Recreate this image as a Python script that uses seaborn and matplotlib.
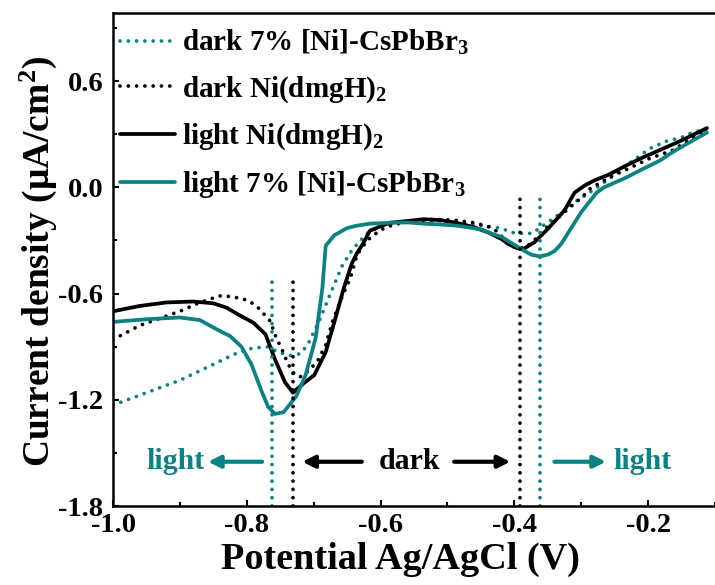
import matplotlib
matplotlib.use("Agg")
import matplotlib.pyplot as plt
import seaborn as sns
import pandas as pd

# ---------------- data ----------------
x_light_ni = [-1.0, -0.96, -0.92, -0.88, -0.85, -0.83, -0.812, -0.79, -0.772, -0.758, -0.743,
              -0.731, -0.716, -0.699, -0.682, -0.669, -0.655, -0.643, -0.635, -0.625, -0.616,
              -0.6, -0.586, -0.56, -0.536, -0.51, -0.487, -0.46, -0.439, -0.42, -0.409, -0.395,
              -0.385, -0.37, -0.35, -0.325, -0.31, -0.295, -0.28, -0.26, -0.232, -0.21, -0.183,
              -0.15, -0.112]
y_light_ni = [-0.70, -0.67, -0.65, -0.645, -0.655, -0.68, -0.72, -0.765, -0.83, -0.97, -1.10,
              -1.16, -1.11, -1.06, -0.93, -0.76, -0.57, -0.43, -0.37, -0.31, -0.245,
              -0.22, -0.20, -0.19, -0.18, -0.185, -0.20, -0.225, -0.255, -0.29, -0.32, -0.345,
              -0.345, -0.31, -0.235, -0.13, -0.03, 0.01, 0.04, 0.07, 0.125, 0.165, 0.21,
              0.265, 0.335]

x_dark_ni = [-1.0, -0.98, -0.96, -0.93, -0.9, -0.87, -0.85, -0.837, -0.812, -0.797, -0.783,
             -0.765, -0.756, -0.748, -0.738, -0.728, -0.719, -0.706, -0.694, -0.682, -0.672,
             -0.66, -0.645, -0.635, -0.62, -0.6, -0.58, -0.55, -0.52, -0.49, -0.46, -0.44,
             -0.425, -0.409, -0.394, -0.38, -0.365, -0.35, -0.34, -0.325, -0.31, -0.3, -0.286,
             -0.256, -0.227, -0.2, -0.163, -0.112]
y_dark_ni = [-0.86, -0.82, -0.78, -0.74, -0.70, -0.65, -0.625, -0.61, -0.625, -0.64, -0.68,
             -0.755, -0.85, -0.91, -1.0, -1.06, -1.07, -1.03, -0.98, -0.89, -0.76,
             -0.64, -0.51, -0.38, -0.30, -0.24, -0.21, -0.19, -0.18, -0.185, -0.20, -0.22,
             -0.25, -0.32, -0.35, -0.33, -0.28, -0.22, -0.19, -0.14, -0.09, -0.06, -0.005,
             0.06, 0.11, 0.16, 0.21, 0.33]

x_light_cs = [-1.0, -0.95, -0.9, -0.87, -0.846, -0.825, -0.808, -0.793, -0.778, -0.768, -0.758,
              -0.745, -0.726, -0.712, -0.697, -0.687, -0.682, -0.669, -0.65, -0.635, -0.616,
              -0.586, -0.56, -0.536, -0.51, -0.487, -0.465, -0.448, -0.435, -0.419, -0.404,
              -0.389, -0.375, -0.362, -0.35, -0.34, -0.33, -0.32, -0.31, -0.3, -0.277, -0.266,
              -0.245, -0.232, -0.21, -0.183, -0.163, -0.14, -0.112]
y_light_cs = [-0.76, -0.745, -0.735, -0.75, -0.80, -0.84, -0.90, -1.0, -1.15, -1.24, -1.28,
              -1.27, -1.18, -1.06, -0.85, -0.57, -0.33, -0.27, -0.23, -0.216, -0.205,
              -0.20, -0.198, -0.205, -0.21, -0.216, -0.228, -0.24, -0.26, -0.28, -0.315,
              -0.35, -0.38, -0.39, -0.38, -0.36, -0.32, -0.26, -0.2, -0.14, -0.03, 0.0,
              0.035, 0.057, 0.10, 0.15, 0.20, 0.25, 0.31]

x_dark_cs = [-1.0, -0.95, -0.9, -0.85, -0.817, -0.793, -0.77, -0.753, -0.735, -0.72, -0.709,
             -0.69, -0.675, -0.657, -0.642, -0.62, -0.6, -0.57, -0.54, -0.51, -0.48, -0.46,
             -0.44, -0.42, -0.404, -0.389, -0.374, -0.36, -0.34, -0.325, -0.313, -0.3, -0.28,
             -0.25, -0.222, -0.197, -0.173, -0.148, -0.134, -0.112]
y_dark_cs = [-1.23, -1.16, -1.09, -1.00, -0.94, -0.91, -0.90, -0.93, -0.95, -0.94, -0.89,
             -0.74, -0.60, -0.44, -0.35, -0.26, -0.22, -0.20, -0.19, -0.19, -0.20, -0.21,
             -0.22, -0.23, -0.255, -0.26, -0.26, -0.225, -0.17, -0.13, -0.09, -0.06, -0.01,
             0.07, 0.153, 0.22, 0.26, 0.285, 0.31, 0.33]

labels = ["dark 7% [Ni]-CsPbBr$_3$", "dark Ni(dmgH)$_2$",
          "light Ni(dmgH)$_2$", "light 7% [Ni]-CsPbBr$_3$"]

# peak markers (vertical dotted lines)
vline_x_teal = [-0.763, -0.361]
vline_top_teal = [-0.49, -0.05]
vline_x_black = [-0.731, -0.392]
vline_top_black = [-0.49, -0.05]

x_ticks = [-1.0, -0.8, -0.6, -0.4, -0.2]
y_ticks = [-1.8, -1.2, -0.6, 0.0, 0.6]

TEAL = "#0a8282"
BLACK = "#000000"

# ---------------- style ----------------
sns.set_theme(style="ticks")
plt.rcParams.update({
    "font.family": ["Liberation Serif", "DejaVu Serif"],
    "font.weight": "bold",
    "axes.labelweight": "bold",
    "mathtext.fontset": "custom",
    "mathtext.rm": "Liberation Serif:bold",
    "mathtext.it": "Liberation Serif:italic:bold",
    "mathtext.bf": "Liberation Serif:bold",
    "mathtext.default": "rm",
    "axes.linewidth": 1.8,
    "axes.edgecolor": "black",
    "axes.labelcolor": "black",
    "text.color": "black",
    "xtick.color": "black",
    "ytick.color": "black",
    "xtick.direction": "in",
    "ytick.direction": "in",
})

fig = plt.figure(figsize=(7.15, 5.85), dpi=100)
ax = fig.add_axes([113 / 715, 1 - 506 / 585, (715 - 113) / 715, (506 - 13) / 585])

dot = (0, (0.01, 2.2))
lw = 2.7

def draw(xs, ys, color, style, label):
    df = pd.DataFrame({"x": xs, "y": ys})
    sns.lineplot(data=df, x="x", y="y", ax=ax, color=color, linewidth=lw,
                 linestyle=style, label=label, sort=False,
                 solid_capstyle="round", dash_capstyle="round", solid_joinstyle="round")

draw(x_dark_cs, y_dark_cs, TEAL, dot, labels[0])
draw(x_dark_ni, y_dark_ni, BLACK, dot, labels[1])
draw(x_light_ni, y_light_ni, BLACK, "-", labels[2])
draw(x_light_cs, y_light_cs, TEAL, "-", labels[3])

ymin, ymax = -1.8, 0.985
ax.vlines(vline_x_teal, ymin, vline_top_teal, colors=TEAL, linewidth=lw,
          linestyles=[dot])
ax.vlines(vline_x_black, ymin, vline_top_black, colors=BLACK, linewidth=lw,
          linestyles=[dot])
for coll in ax.collections:
    coll.set_capstyle("round")

ax.set_xlim(-1.0, -0.112)
ax.set_ylim(ymin, ymax)
ax.set_xticks(x_ticks)
ax.set_yticks(y_ticks)
ax.set_xticks([-0.9, -0.7, -0.5, -0.3, -0.1], minor=True)
ax.set_yticks([-1.5, -0.9, -0.3, 0.3, 0.9], minor=True)
ax.set_xticklabels([f"{v:.1f}" for v in x_ticks])
ax.set_yticklabels([f"{v:.1f}" for v in y_ticks])
ax.tick_params(which="major", length=4, width=1.5, labelsize=20.5)
ax.tick_params(axis="x", which="major", pad=5)
ax.tick_params(axis="y", which="major", pad=7)
ax.tick_params(which="minor", length=3, width=1.5)
ax.spines["right"].set_visible(False)

ax.set_xlabel("Potential Ag/AgCl (V)", fontsize=27.5, va="top")
ax.xaxis.set_label_coords(0.478, -0.073)
ax.set_ylabel("Current density (μA/cm$^2$)", fontsize=27)
ax.yaxis.set_label_coords(-0.09, 0.495)

leg = ax.legend(loc="upper left", bbox_to_anchor=(0.0, 0.984), frameon=False,
                fontsize=21, handlelength=1.9, handletextpad=0.24,
                labelspacing=0.58, borderaxespad=0.24, borderpad=0.0)

# annotations
ty = -1.55
ax.text(-0.907, ty, "light", color=TEAL, fontsize=21.5, ha="center", va="center")
ax.text(-0.556, ty, "dark", color=BLACK, fontsize=21.5, ha="center", va="center")
ax.text(-0.209, ty, "light", color=TEAL, fontsize=21.5, ha="center", va="center")
arrow_kw = dict(arrowstyle="-|>", lw=3, mutation_scale=18, shrinkA=0, shrinkB=0)
ax.annotate("", xy=(-0.858, ty), xytext=(-0.777, ty),
            arrowprops=dict(color=TEAL, **arrow_kw))
ax.annotate("", xy=(-0.717, ty), xytext=(-0.628, ty),
            arrowprops=dict(color=BLACK, **arrow_kw))
ax.annotate("", xy=(-0.406, ty), xytext=(-0.49, ty),
            arrowprops=dict(color=BLACK, **arrow_kw))
ax.annotate("", xy=(-0.263, ty), xytext=(-0.34, ty),
            arrowprops=dict(color=TEAL, **arrow_kw))

fig.savefig("out.png", dpi=100)
